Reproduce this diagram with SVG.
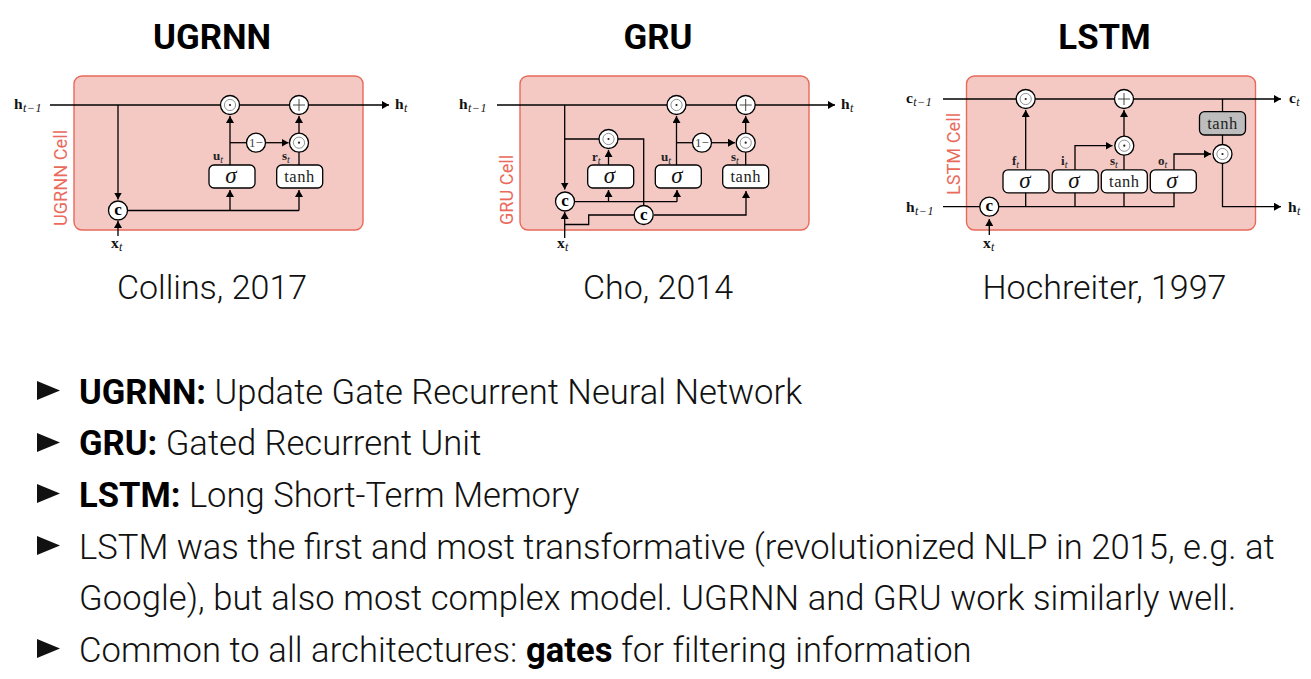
<svg xmlns="http://www.w3.org/2000/svg" width="1311" height="679" viewBox="0 0 1311 679">
<style>
.cell{fill:#f4c9c4;stroke:#e8695a;stroke-width:1.4}
.w{fill:none;stroke:#000;stroke-width:1.3}
.a{marker-end:url(#arr)}
.n{fill:#fff;stroke:#000;stroke-width:1.3}
.g{fill:#bdbdbd;stroke:#000;stroke-width:1.3}
.i{fill:none;stroke:#666;stroke-width:.7}
.d{fill:#222}
.p{fill:none;stroke:#333;stroke-width:.9}
text{font-family:"Roboto","Liberation Sans",sans-serif}
.title{font-size:34.800px;font-weight:700;text-anchor:middle;fill:#000}
.cap{font-size:34px;font-weight:300;text-anchor:middle;fill:#111}
.body{font-size:34.600px;font-weight:300;fill:#111}
.body .b{font-weight:700;fill:#000}
.tight{letter-spacing:.07px}
.side{font-size:18.200px;font-weight:400;fill:#ea6a5c;text-anchor:middle}
.m{font-family:"Liberation Serif",serif;font-size:15.500px;font-weight:700;fill:#111;letter-spacing:.3px}
.m .s{font-size:12px;font-weight:400;font-style:italic;letter-spacing:.6px}
.lab{font-family:"Liberation Serif",serif;font-size:13px;font-weight:700;fill:#222}
.lab .s{font-size:10px;font-weight:400;font-style:italic}
.sig{font-family:"Liberation Serif",serif;font-size:23px;font-style:italic;text-anchor:middle;fill:#111}
.tanh{font-family:"Liberation Serif",serif;font-size:16.500px;text-anchor:middle;fill:#222;letter-spacing:.5px}
.c{font-family:"Liberation Serif",serif;font-size:17px;font-weight:700;text-anchor:middle;fill:#000}
.one{font-family:"Liberation Serif",serif;font-size:13px;text-anchor:middle;fill:#444}
</style>
<defs>
<marker id="arr" markerUnits="userSpaceOnUse" markerWidth="8" markerHeight="8" refX="7" refY="4" orient="auto"><path d="M0 0L7 4L0 8Z" fill="#000"/></marker>
<g id="odot"><circle r="9.5" class="n"/><circle r="5.6" class="i"/><circle r="1.1" class="d"/></g>
<g id="plus"><circle r="9.5" class="n"/><path d="M-6 0H6M0-6V6" class="p"/></g>
<circle id="circ" r="9.5" class="n"/>
<rect id="box" x="-23" y="-11.500" width="46" height="23" rx="5" class="n"/>
<path id="bullet" d="M0 0L23 9.500L0 19Z" fill="#111"/>
</defs>

<text class="title" x="212" y="49">UGRNN</text>
<text class="title" x="658" y="49">GRU</text>
<text class="title" x="1104.500" y="49">LSTM</text>

<g id="cell-ugrnn"><rect class="cell" x="74" y="76" width="289" height="154" rx="8"/><text class="side" transform="translate(66.500 178) rotate(-90)">UGRNN Cell</text></g>
<g id="cell-gru"><rect class="cell" x="520" y="76" width="289" height="154" rx="8"/><text class="side" transform="translate(512.500 190) rotate(-90)">GRU Cell</text></g>
<g id="cell-lstm"><rect class="cell" x="966.500" y="76" width="289" height="154" rx="8"/><text class="side" transform="translate(959.500 154) rotate(-90)">LSTM Cell</text></g>

<g id="connectors">
<path class="w a" d="M50 105H389"/>
<path class="w a" d="M118 105V199.500"/>
<path class="w a" d="M118 236V221"/>
<path class="w" d="M128 210.500H299"/>
<path class="w a" d="M230 210.500V190"/>
<path class="w a" d="M299 210.500V190"/>
<path class="w a" d="M230 165V116"/>
<path class="w" d="M230 142.700H250"/>
<path class="w a" d="M262 142.700H288.500"/>
<path class="w" d="M299 165V152"/>
<path class="w a" d="M299 133V116"/>

<path class="w a" d="M497 105H835"/>
<path class="w a" d="M564.700 105V189.500"/>
<path class="w" d="M564.700 139H643.700V205"/>
<path class="w a" d="M608.500 165V150"/>
<path class="w a" d="M564.700 238V212"/>
<path class="w" d="M575 201.700H677"/>
<path class="w a" d="M608.500 201.700V190"/>
<path class="w a" d="M677 201.700V190"/>
<path class="w a" d="M654 215H746V191"/>
<path class="w" d="M634 215H588.700V224.500H564.700"/>
<path class="w a" d="M676.500 165V116"/>
<path class="w" d="M676.500 142.700H695"/>
<path class="w a" d="M708 142.700H735"/>
<path class="w" d="M745.700 165V152"/>
<path class="w a" d="M745.700 133V116"/>

<path class="w a" d="M943 99H1281"/>
<path class="w" d="M943 206.700H980"/>
<path class="w a" d="M989.300 235V219"/>
<path class="w" d="M999 206.700H1174V192"/>
<path class="w" d="M1025.700 206.700V192M1075 206.700V192M1124 206.700V192"/>
<path class="w a" d="M1025.700 170V110"/>
<path class="w a" d="M1075 170V145.700H1112.500"/>
<path class="w" d="M1124 170V155"/>
<path class="w a" d="M1124 136V110"/>
<path class="w a" d="M1174 170V154H1211"/>
<path class="w" d="M1222.500 99V145"/>
<path class="w a" d="M1222.500 163V206.700H1281"/>
</g>

<g id="ugrnn-nodes">
<g id="u-mul1"><use href="#odot" x="230" y="105"/></g>
<g id="u-add"><use href="#plus" x="299" y="105"/></g>
<g id="u-mul2"><use href="#odot" x="299" y="142.700"/></g>
<g id="u-one"><use href="#circ" x="256" y="142.700"/><text class="one" x="256" y="147">1−</text></g>
<g id="u-c"><use href="#circ" x="118" y="210.500"/><text class="c" x="118" y="215">c</text></g>
<g id="u-sigma"><use href="#box" x="232" y="176.500"/><text class="sig" x="231" y="183">σ</text></g>
<g id="u-tanh"><use href="#box" x="299.700" y="176.500"/><text class="tanh" x="299.500" y="181.500">tanh</text></g>
</g>
<g id="gru-nodes">
<g id="g-mul0"><use href="#odot" x="608.500" y="139"/></g>
<g id="g-mul1"><use href="#odot" x="676.500" y="105"/></g>
<g id="g-add"><use href="#plus" x="745.700" y="105"/></g>
<g id="g-mul2"><use href="#odot" x="745.700" y="142.700"/></g>
<g id="g-one"><use href="#circ" x="702" y="142.700"/><text class="one" x="702" y="147">1−</text></g>
<g id="g-c1"><use href="#circ" x="565" y="201.500"/><text class="c" x="565" y="206">c</text></g>
<g id="g-c2"><use href="#circ" x="643.700" y="215"/><text class="c" x="643.700" y="219.500">c</text></g>
<g id="g-sigma1"><use href="#box" x="610.700" y="176.500"/><text class="sig" x="609.500" y="183">σ</text></g>
<g id="g-sigma2"><use href="#box" x="678.300" y="176.500"/><text class="sig" x="677" y="183">σ</text></g>
<g id="g-tanh"><use href="#box" x="745.700" y="176.500"/><text class="tanh" x="745.700" y="181.500">tanh</text></g>
</g>
<g id="lstm-nodes">
<g id="l-mul1"><use href="#odot" x="1025.700" y="99"/></g>
<g id="l-add"><use href="#plus" x="1124" y="99"/></g>
<g id="l-mul2"><use href="#odot" x="1124.300" y="145.700"/></g>
<g id="l-mul3"><use href="#odot" x="1222.500" y="154"/></g>
<g id="l-c"><use href="#circ" x="989.300" y="206.700"/><text class="c" x="989.300" y="211">c</text></g>
<g id="l-sigma1"><use href="#box" x="1026" y="181.300"/><text class="sig" x="1025" y="188">σ</text></g>
<g id="l-sigma2"><use href="#box" x="1075.200" y="181.300"/><text class="sig" x="1074" y="188">σ</text></g>
<g id="l-tanh1"><use href="#box" x="1124.300" y="181.300"/><text class="tanh" x="1124.300" y="186.500">tanh</text></g>
<g id="l-sigma3"><use href="#box" x="1173.300" y="181.300"/><text class="sig" x="1172" y="188">σ</text></g>
<g id="l-tanh2"><rect class="g" x="1199.500" y="111.700" width="46" height="23.300" rx="5"/><text class="tanh" x="1222.500" y="129">tanh</text></g>
</g>

<g id="labels">
<text class="m" x="14" y="109">h<tspan class="s" dy="3">t−1</tspan></text>
<text class="m" x="395" y="109">h<tspan class="s" dy="3">t</tspan></text>
<text class="m" x="111" y="248">x<tspan class="s" dy="3">t</tspan></text>
<text class="lab" x="213" y="160">u<tspan class="s" dy="2.500">t</tspan></text>
<text class="lab" x="282" y="160">s<tspan class="s" dy="2.500">t</tspan></text>
<text class="m" x="459" y="109">h<tspan class="s" dy="3">t−1</tspan></text>
<text class="m" x="841" y="109">h<tspan class="s" dy="3">t</tspan></text>
<text class="m" x="557" y="248">x<tspan class="s" dy="3">t</tspan></text>
<text class="lab" x="592" y="161">r<tspan class="s" dy="2.500">t</tspan></text>
<text class="lab" x="661" y="161">u<tspan class="s" dy="2.500">t</tspan></text>
<text class="lab" x="731" y="161">s<tspan class="s" dy="2.500">t</tspan></text>
<text class="m" x="906" y="103">c<tspan class="s" dy="3">t−1</tspan></text>
<text class="m" x="1289" y="103">c<tspan class="s" dy="3">t</tspan></text>
<text class="m" x="906" y="212">h<tspan class="s" dy="3">t−1</tspan></text>
<text class="m" x="1288" y="212">h<tspan class="s" dy="3">t</tspan></text>
<text class="m" x="983" y="248">x<tspan class="s" dy="3">t</tspan></text>
<text class="lab" x="1012" y="165">f<tspan class="s" dy="2.500">t</tspan></text>
<text class="lab" x="1061" y="165">i<tspan class="s" dy="2.500">t</tspan></text>
<text class="lab" x="1110" y="165">s<tspan class="s" dy="2.500">t</tspan></text>
<text class="lab" x="1158" y="165">o<tspan class="s" dy="2.500">t</tspan></text>
</g>

<text class="cap" x="212" y="299">Collins, 2017</text>
<text class="cap" x="658" y="299">Cho, 2014</text>
<text class="cap" x="1104.500" y="299">Hochreiter, 1997</text>

<use href="#bullet" x="37" y="381"/>
<use href="#bullet" x="37" y="433"/>
<use href="#bullet" x="37" y="484"/>
<use href="#bullet" x="37" y="536"/>
<use href="#bullet" x="37" y="639"/>
<text class="body" x="79" y="404"><tspan class="b">UGRNN:</tspan> Update Gate Recurrent Neural Network</text>
<text class="body" x="79" y="455"><tspan class="b">GRU:</tspan> Gated Recurrent Unit</text>
<text class="body" x="79" y="507"><tspan class="b">LSTM:</tspan> Long Short-Term Memory</text>
<text class="body" x="79" y="559">LSTM was the first and most transformative (revolutionized NLP in 2015, e.g. at</text>
<text class="body tight" x="79" y="610">Google), but also most complex model. UGRNN and GRU work similarly well.</text>
<text class="body tight" x="79" y="662">Common to all architectures: <tspan class="b">gates</tspan> for filtering information</text>
</svg>
